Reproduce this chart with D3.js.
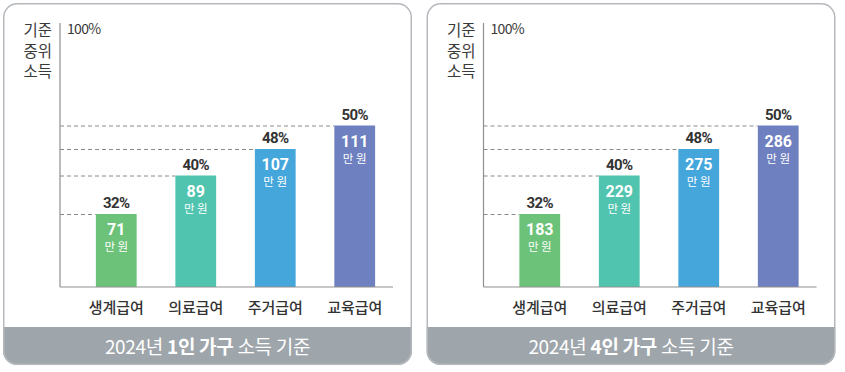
<!DOCTYPE html>
<html>
<head>
<meta charset="utf-8">
<script src="https://cdn.jsdelivr.net/npm/d3@7"></script>
<style>
  html, body { margin: 0; padding: 0; background: #fff; }
  svg { display: block; font-family: "Noto Sans CJK KR", "Noto Sans", sans-serif; }
  .num { font-family: Roboto, "Noto Sans", sans-serif; }
</style>
</head>
<body>
<svg id="chart" width="845" height="372"></svg>
<script>
// chart data
const categories = ["생계급여", "의료급여", "주거급여", "교육급여"];
const shares = [32, 40, 48, 50];             // % of median income
const amounts1 = [71, 89, 107, 111];         // 1인 가구, 만원
const amounts4 = [183, 229, 275, 286];       // 4인 가구, 만원
const households = ["1인 가구", "4인 가구"];
const axisTopLabel = "100%";
const axisTitle = ["기준", "중위", "소득"];
const unitLabel = "만 원";
const colors = ["#6cc279", "#50c4ae", "#45a6dc", "#6e80bf"];

const svg = d3.select("#chart");

const panelW = 409, panelH = 362, panelStep = 423.5;
const axisX = 57, axisTop = 20, baseY = 284, axisRight = 390;

// the original uses a stylised (not proportional) height for each share level,
// so the y scale is piecewise linear through those levels
const y = d3.scaleLinear()
  .domain([16].concat(shares))
  .range([baseY, 211, 172.5, 146, 122.5]);
const x = d3.scaleBand()
  .domain(categories)
  .range([73, 392])
  .paddingInner(0.487)
  .paddingOuter(0.25);

/** draws one rounded panel with its bars
 * @param {number} idx - panel index
 * @param {number[]} amounts - amounts in 만원 */
function drawPanel (idx, amounts) {
  const g = svg.append("g").attr("transform", "translate(" + (3 + idx * panelStep) + ",3)");
  const rows = categories.map((c, i) => ({ cat: c, share: shares[i], amount: amounts[i], color: colors[i] }));

  // footer band clipped to the rounded frame
  const clipId = "clip" + idx;
  g.append("clipPath").attr("id", clipId)
    .append("rect").attr("width", panelW).attr("height", panelH).attr("rx", 14);
  g.append("rect")
    .attr("width", panelW).attr("height", panelH).attr("rx", 14)
    .attr("fill", "#fff");
  g.append("rect")
    .attr("clip-path", "url(#" + clipId + ")")
    .attr("x", 0).attr("y", 324).attr("width", panelW).attr("height", panelH - 324)
    .attr("fill", "#9ea5ab");
  g.append("rect")
    .attr("x", 0.75).attr("y", 0.75).attr("width", panelW - 1.5).attr("height", panelH - 1.5).attr("rx", 13.5)
    .attr("fill", "none").attr("stroke", "#b4b8bc").attr("stroke-width", 1.5);

  const title = g.append("text")
    .attr("x", panelW / 2).attr("y", 351)
    .attr("text-anchor", "middle")
    .attr("fill", "#fff")
    .attr("font-size", 19)
    .attr("letter-spacing", -0.3);
  title.append("tspan").text("2024년 ");
  title.append("tspan").attr("font-weight", "bold").text(households[idx]);
  title.append("tspan").text(" 소득 기준");

  // axis title, stacked
  g.append("text")
    .attr("text-anchor", "end")
    .attr("fill", "#3a3a3a")
    .attr("font-size", 15.5)
    .selectAll("tspan")
    .data(axisTitle)
    .enter()
    .append("tspan")
    .attr("x", 49)
    .attr("y", (d, i) => 33 + i * 20.5)
    .text(d => d);

  g.append("text")
    .attr("x", axisX + 7).attr("y", 31)
    .attr("fill", "#3a3a3a")
    .attr("font-size", 14)
    .attr("letter-spacing", -0.7)
    .text(axisTopLabel);

  // dashed guide lines from the axis to each bar
  g.selectAll("line.guide")
    .data(rows)
    .enter()
    .append("line")
    .attr("class", "guide")
    .attr("x1", axisX).attr("x2", d => x(d.cat))
    .attr("y1", d => y(d.share) + 0.5).attr("y2", d => y(d.share) + 0.5)
    .attr("stroke", "#8a8a8a")
    .attr("stroke-width", 1)
    .attr("stroke-dasharray", "4,3");

  g.selectAll("rect.bar")
    .data(rows)
    .enter()
    .append("rect")
    .attr("class", "bar")
    .attr("x", d => x(d.cat))
    .attr("y", d => y(d.share))
    .attr("width", x.bandwidth())
    .attr("height", d => baseY - y(d.share))
    .attr("fill", d => d.color);

  // axes lines
  g.append("line")
    .attr("x1", axisX).attr("x2", axisX).attr("y1", axisTop).attr("y2", baseY)
    .attr("stroke", "#8f8f8f").attr("stroke-width", 1.2);
  g.append("line")
    .attr("x1", axisX).attr("x2", axisRight).attr("y1", baseY).attr("y2", baseY)
    .attr("stroke", "#8f8f8f").attr("stroke-width", 1.2);

  const cx = d => x(d.cat) + x.bandwidth() / 2;

  g.selectAll("text.share")
    .data(rows)
    .enter()
    .append("text")
    .attr("class", "share num")
    .attr("x", cx).attr("y", d => y(d.share) - 6)
    .attr("text-anchor", "middle")
    .attr("fill", "#333")
    .attr("font-size", 15)
    .attr("font-weight", "bold")
    .attr("letter-spacing", -0.6)
    .text(d => d.share + "%");

  g.selectAll("text.amount")
    .data(rows)
    .enter()
    .append("text")
    .attr("class", "amount num")
    .attr("x", cx).attr("y", d => y(d.share) + 21)
    .attr("text-anchor", "middle")
    .attr("fill", "#fff")
    .attr("font-size", 16)
    .attr("font-weight", "bold")
    .text(d => d.amount);

  g.selectAll("text.unit")
    .data(rows)
    .enter()
    .append("text")
    .attr("class", "unit")
    .attr("x", cx).attr("y", d => y(d.share) + 37)
    .attr("text-anchor", "middle")
    .attr("fill", "#fff")
    .attr("font-size", 11.5)
    .text(unitLabel);

  g.selectAll("text.cat")
    .data(rows)
    .enter()
    .append("text")
    .attr("class", "cat")
    .attr("x", cx).attr("y", 310)
    .attr("text-anchor", "middle")
    .attr("fill", "#333")
    .attr("font-size", 15)
    .attr("font-weight", 500)
    .text(d => d.cat);
}

drawPanel(0, amounts1);
drawPanel(1, amounts4);
</script>
</body>
</html>
